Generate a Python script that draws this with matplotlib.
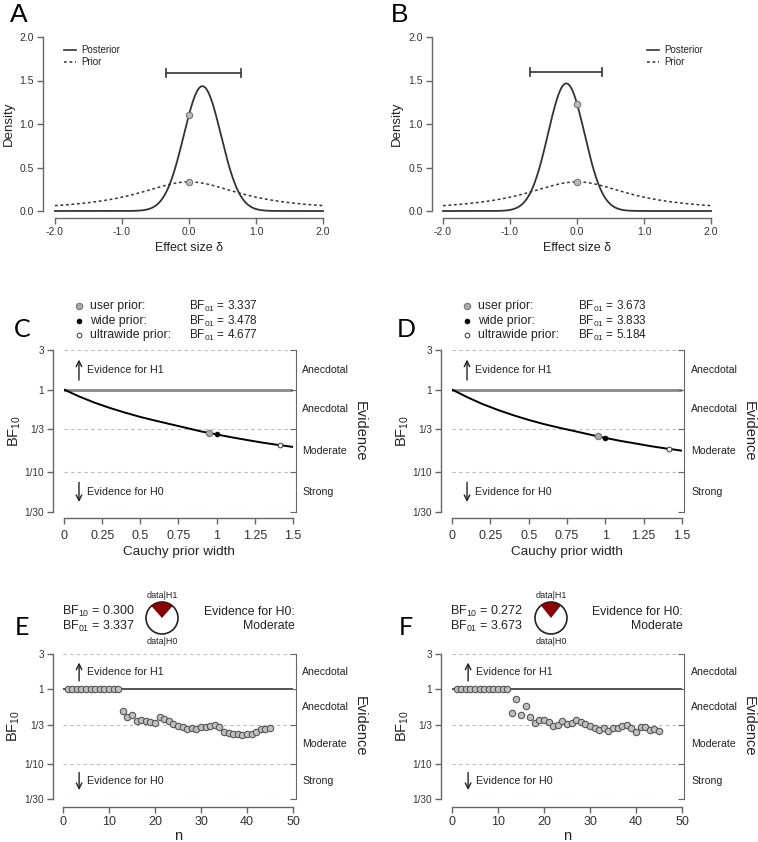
import numpy as np
import matplotlib
matplotlib.use("Agg")
import matplotlib.pyplot as plt
from matplotlib.lines import Line2D
from matplotlib.patches import Wedge, Circle
from matplotlib.ticker import NullLocator
import matplotlib.transforms as mtrans

plt.rcParams['font.family'] = ['Liberation Sans', 'DejaVu Sans']
plt.rcParams['mathtext.fontset'] = 'custom'
plt.rcParams['mathtext.rm'] = 'Liberation Sans'
plt.rcParams['mathtext.it'] = 'Liberation Sans:italic'
plt.rcParams['mathtext.bf'] = 'Liberation Sans:bold'

# ---------------- data ----------------
delta_ticks = [-2.0, -1.0, 0.0, 1.0, 2.0]
delta_ticklabels = ['-2.0', '-1.0', '0.0', '1.0', '2.0']
density_ticks = [0.0, 0.5, 1.0, 1.5, 2.0]
density_ticklabels = ['0.0', '0.5', '1.0', '1.5', '2.0']

user_prior_width = 0.95            # Cauchy prior scale
post_means = [0.20, -0.16]         # panels A, B
post_sds = [0.278, 0.272]
ci_lower = [-0.35, -0.70]
ci_upper = [0.77, 0.38]
ci_height = [1.59, 1.60]

prior_widths = [0.95, 1.0, 1.414]
prior_labels = ['user prior:', 'wide prior:', 'ultrawide prior:']
bf01_C = [3.337, 3.478, 4.677]
bf01_D = [3.673, 3.833, 5.184]

robust_r = [0, 0.1, 0.2, 0.3, 0.4, 0.5, 0.6, 0.7, 0.8, 0.9, 0.95, 1.0,
            1.1, 1.2, 1.3, 1.4, 1.414, 1.5]
robust_bf10_C = [1.0, 0.824, 0.695, 0.600, 0.527, 0.467, 0.421, 0.381, 0.345,
                 0.312, 0.2997, 0.2875, 0.265, 0.246, 0.229, 0.215, 0.2138, 0.203]
robust_bf10_D = [1.0, 0.808, 0.667, 0.567, 0.490, 0.430, 0.383, 0.346, 0.315,
                 0.286, 0.2723, 0.2609, 0.240, 0.223, 0.207, 0.194, 0.1929, 0.183]

r_ticks = [0, 0.25, 0.5, 0.75, 1.0, 1.25, 1.5]
r_ticklabels = ['0', '0.25', '0.5', '0.75', '1', '1.25', '1.5']
bf_ticks = [3, 1, 1/3, 1/10, 1/30]
bf_ticklabels = ['3', '1', '1/3', '1/10', '1/30']
evidence_levels = ['Anecdotal', 'Anecdotal', 'Moderate', 'Strong']
evidence_pos = [3 ** 0.5, (1/3) ** 0.5, (1/30) ** 0.5, (1/300) ** 0.5]

n_seq = list(range(1, 46))
seq_bf10_E = [1.0] * 12 + [0.507, 0.424, 0.447, 0.378, 0.382, 0.370, 0.366, 0.355,
                           0.429, 0.403, 0.374, 0.344, 0.320, 0.310, 0.294, 0.300,
                           0.297, 0.310, 0.313, 0.320, 0.330, 0.316, 0.270, 0.256,
                           0.251, 0.248, 0.246, 0.251, 0.251, 0.265, 0.294, 0.294,
                           0.300]
seq_bf10_F = [1.0] * 12 + [0.486, 0.738, 0.452, 0.593, 0.424, 0.355, 0.382, 0.382,
                           0.362, 0.326, 0.333, 0.370, 0.347, 0.351, 0.386, 0.359,
                           0.337, 0.320, 0.303, 0.288, 0.300, 0.279, 0.300, 0.300,
                           0.320, 0.333, 0.300, 0.267, 0.310, 0.316, 0.288, 0.294,
                           0.272]
n_ticks = [0, 10, 20, 30, 40, 50]
final_bf10 = [0.300, 0.272]
final_bf01 = [3.337, 3.673]
final_evidence = ['Moderate', 'Moderate']

# ---------------- layout helpers ----------------
W, H = 758, 842
fig = plt.figure(figsize=(W / 100, H / 100), dpi=100)
PX = 0.72  # points per pixel
AXC = '#666666'
TXC = '#222222'


def px_ax(l, t, r, b):
    return fig.add_axes([l / W, 1 - b / H, (r - l) / W, (b - t) / H])


def ftext(x, y, s, **kw):
    kw.setdefault('color', TXC)
    return fig.text(x / W, 1 - y / H, s, **kw)


def style_axes(ax, left_off, bottom_off):
    for s in ['top', 'right']:
        ax.spines[s].set_visible(False)
    for s in ['left', 'bottom']:
        ax.spines[s].set_color(AXC)
        ax.spines[s].set_linewidth(1.0)
    ax.spines['left'].set_position(('outward', left_off * PX))
    ax.spines['bottom'].set_position(('outward', bottom_off * PX))
    ax.tick_params(direction='out', length=4, width=1.0, color=AXC,
                   labelcolor='#333333', pad=2.5)
    ax.patch.set_alpha(0)


def prior_pdf(x, r):
    return 1.0 / (np.pi * r * (1 + (x / r) ** 2))


def normal_pdf(x, m, s):
    return np.exp(-0.5 * ((x - m) / s) ** 2) / (s * np.sqrt(2 * np.pi))


# ---------------- panels A, B ----------------
ab_boxes = [(55, 37, 323, 211), (443, 37, 711, 211)]
ab_left_off = [12, 11]
legend_pos = [(64, 81), (647, 664)]
letters_ab = ['A', 'B']
letter_xy_ab = [(10, 22), (391, 22)]
xgrid = np.linspace(-2, 2, 801)
for i in range(2):
    ax = px_ax(*ab_boxes[i])
    style_axes(ax, ab_left_off[i], 7)
    ax.set_xlim(-2, 2)
    ax.set_ylim(0, 2)
    ax.spines['left'].set_bounds(0, 2)
    ax.spines['bottom'].set_bounds(-2, 2)
    ax.set_xticks(delta_ticks)
    ax.set_xticklabels(delta_ticklabels, fontsize=7.5)
    ax.set_yticks(density_ticks)
    ax.set_yticklabels(density_ticklabels, fontsize=7.5)
    post = normal_pdf(xgrid, post_means[i], post_sds[i])
    pri = prior_pdf(xgrid, user_prior_width)
    ax.plot(xgrid, post, color='#333333', lw=1.3, clip_on=False)
    ax.plot(xgrid, pri, color='#333333', lw=1.1, ls=(0, (1.8, 1.8)), clip_on=False)
    # CI bar
    ax.plot([ci_lower[i], ci_upper[i]], [ci_height[i]] * 2, color='#444444', lw=1.3)
    for xv in (ci_lower[i], ci_upper[i]):
        ax.plot([xv, xv], [ci_height[i] - 0.045, ci_height[i] + 0.045],
                color='#444444', lw=1.3)
    ax.plot([0, 0], [normal_pdf(0, post_means[i], post_sds[i]),
                     prior_pdf(0, user_prior_width)], 'o', ms=4.6,
            mfc='#bbbbbb', mec='#777777', mew=0.8, ls='none', zorder=5)
    ax.text(-0.172, 0.5, 'Density', transform=ax.transAxes, rotation=90,
            ha='center', va='center', fontsize=9.5, color=TXC)
    ax.text(0.5, -0.215, 'Effect size δ', transform=ax.transAxes,
            ha='center', va='center', fontsize=9, color=TXC)
    # legend
    lx, tx = legend_pos[i]
    fig.add_artist(Line2D([lx / W, (lx + 12) / W], [1 - 50 / H] * 2,
                          color='#333333', lw=1.2))
    fig.add_artist(Line2D([lx / W, (lx + 12) / W], [1 - 62 / H] * 2,
                          color='#333333', lw=1.1, ls=(0, (1.8, 1.8))))
    ftext(tx, 50, 'Posterior', fontsize=7, va='center')
    ftext(tx, 62, 'Prior', fontsize=7, va='center')
    ftext(letter_xy_ab[i][0], letter_xy_ab[i][1], letters_ab[i], fontsize=19,
          va='baseline', color='black')


# ---------------- BF axes helper ----------------
def bf_axes(box, left_off, bottom_off, right_off, xmax, xticks, xticklabels,
            xtick_fs, xpad, one_color, one_lw, arrow_x, text_x):
    ax = px_ax(*box)
    style_axes(ax, left_off, bottom_off)
    ax.set_yscale('log')
    ax.set_xlim(0, xmax)
    ax.set_ylim(1/30, 3)
    ax.spines['left'].set_bounds(1/30, 3)
    ax.spines['bottom'].set_bounds(0, xmax)
    ax.set_yticks(bf_ticks)
    ax.set_yticklabels(bf_ticklabels, fontsize=7.2)
    ax.yaxis.set_minor_locator(NullLocator())
    ax.set_xticks(xticks)
    ax.set_xticklabels(xticklabels, fontsize=xtick_fs)
    ax.tick_params(axis='x', pad=xpad)
    axr = ax.twinx()
    axr.set_yscale('log')
    axr.set_ylim(1/30, 3)
    for s in ['top', 'left', 'bottom']:
        axr.spines[s].set_visible(False)
    axr.spines['right'].set_position(('outward', right_off * PX))
    axr.spines['right'].set_bounds(1/30, 3)
    axr.spines['right'].set_color(AXC)
    axr.set_yticks(bf_ticks)
    axr.yaxis.set_minor_locator(NullLocator())
    axr.tick_params(direction='in', length=4, color=AXC, labelright=False)
    axr.patch.set_alpha(0)
    for yv in [3, 1/3, 1/10, 1/30]:
        ax.plot([0, xmax], [yv, yv], color='#bbbbbb', lw=0.8, ls=(0, (3, 3)))
    ax.plot([0, xmax], [1, 1], color=one_color, lw=one_lw)
    tr = mtrans.blended_transform_factory(ax.transAxes, ax.transData)
    for lab, yv in zip(evidence_levels, evidence_pos):
        ax.text(1.04, yv, lab, transform=tr, fontsize=7.6, va='center',
                ha='left', color=TXC)
    ax.text(1.29, 0.5, 'Evidence', transform=ax.transAxes, rotation=270,
            fontsize=10.5, ha='center', va='center', color=TXC)
    ax.text(-0.215, 0.5, r'BF$_{10}$', transform=ax.transAxes, rotation=90,
            fontsize=10.5, ha='center', va='center', color=TXC)
    ax.annotate('', xy=(arrow_x, 2.3), xytext=(arrow_x, 1.3),
                arrowprops=dict(arrowstyle='->', lw=1.0, color=TXC,
                                shrinkA=0, shrinkB=0))
    ax.annotate('', xy=(arrow_x, 0.044), xytext=(arrow_x, 0.076),
                arrowprops=dict(arrowstyle='->', lw=1.0, color=TXC,
                                shrinkA=0, shrinkB=0))
    ax.text(text_x, 1.72, 'Evidence for H1', fontsize=7.7, va='center', color=TXC)
    ax.text(text_x, 0.058, 'Evidence for H0', fontsize=7.7, va='center', color=TXC)
    return ax


# ---------------- panels C, D ----------------
cd_boxes = [(64, 350, 293, 512), (452, 350, 682, 512)]
cd_left_off = [11, 11]
cd_right_off = [3, 2]
cd_bf01 = [bf01_C, bf01_D]
cd_curves = [robust_bf10_C, robust_bf10_D]
cd_leg_x = [(79, 90, 189), (467, 478, 578)]
leg_rows = [306, 321, 335]
letters_cd = ['C', 'D']
letter_xy_cd = [(14, 337), (397, 337)]
marker_styles = [dict(ms=4.6, mfc='#aaaaaa', mec='#777777', mew=0.8),
                 dict(ms=3.4, mfc='black', mec='black', mew=0.6),
                 dict(ms=3.4, mfc='white', mec='#333333', mew=0.7)]
for i in range(2):
    ax = bf_axes(cd_boxes[i], cd_left_off[i], 6, cd_right_off[i], 1.5, r_ticks,
                 r_ticklabels, 9, 4.5, '#888888', 2.0, 0.098, 0.15)
    ax.plot(robust_r, cd_curves[i], color='black', lw=1.4)
    for j in range(3):
        ax.plot([prior_widths[j]], [1 / cd_bf01[i][j]], 'o', ls='none',
                zorder=5, **marker_styles[j])
    ax.text(0.5, -0.245, 'Cauchy prior width', transform=ax.transAxes,
            ha='center', va='center', fontsize=9.7, color=TXC)
    mx, tx, bx = cd_leg_x[i]
    for j in range(3):
        fig.add_artist(Line2D([mx / W], [1 - leg_rows[j] / H], marker='o',
                              ls='none', **marker_styles[j]))
        ftext(tx, leg_rows[j], prior_labels[j], fontsize=8.8, va='center')
        ftext(bx, leg_rows[j], r'BF$_{01}$ = %.3f' % cd_bf01[i][j],
              fontsize=8.5, va='center')
    ftext(letter_xy_cd[i][0], letter_xy_cd[i][1], letters_cd[i], fontsize=18,
          va='baseline', color='black', family=['Lato', 'DejaVu Sans'])

# ---------------- panels E, F ----------------
ef_boxes = [(63, 654, 293, 799), (452, 654, 682, 799)]
ef_left_off = [10, 11]
ef_right_off = [3, 2]
ef_seq = [seq_bf10_E, seq_bf10_F]
ef_head_x = [(62, 162, 295), (450, 551, 683)]
letters_ef = ['E', 'F']
letter_xy_ef = [(15, 635), (399, 635)]
for i in range(2):
    ax = bf_axes(ef_boxes[i], ef_left_off[i], 8, ef_right_off[i], 50, n_ticks,
                 [str(v) for v in n_ticks], 9, 2.5, '#333333', 1.2, 3.5, 5.3)
    ax.plot(n_seq, ef_seq[i], 'o', ls='none', ms=4.6, mfc='#c0c0c0',
            mec='#555555', mew=0.8, zorder=5)
    ax.text(0.5, -0.255, 'n', transform=ax.transAxes, ha='center',
            va='center', fontsize=10.5, color=TXC)
    hx, cx, rx = ef_head_x[i]
    ftext(hx, 611, r'BF$_{10}$ = %.3f' % final_bf10[i], fontsize=9, va='center')
    ftext(hx, 626, r'BF$_{01}$ = %.3f' % final_bf01[i], fontsize=9, va='center')
    ftext(rx, 612, 'Evidence for H0:', fontsize=8.8, va='center', ha='right')
    ftext(rx, 626, final_evidence[i], fontsize=8.8, va='center', ha='right')
    # pie
    cy, rr = 618, 16
    pax = fig.add_axes([(cx - rr) / W, 1 - (cy + rr) / H, 2 * rr / W, 2 * rr / H])
    pax.set_xlim(-1, 1)
    pax.set_ylim(-1, 1)
    pax.axis('off')
    frac = final_bf10[i] / (1 + final_bf10[i])
    half = frac * 360 / 2
    pax.add_patch(Wedge((0, 0), 1, 90 - half, 90 + half, fc='#8b0000', ec='none'))
    pax.add_patch(Circle((0, 0), 1, fill=False, ec='#222222', lw=1.2,
                         clip_on=False))
    ftext(cx, 595, 'data|H1', fontsize=6.5, ha='center', va='center')
    ftext(cx, 641, 'data|H0', fontsize=6.5, ha='center', va='center')
    ftext(letter_xy_ef[i][0], letter_xy_ef[i][1], letters_ef[i], fontsize=18,
          va='baseline', color='black', family=['Lato', 'DejaVu Sans'])

fig.savefig('out.png', dpi=100)
